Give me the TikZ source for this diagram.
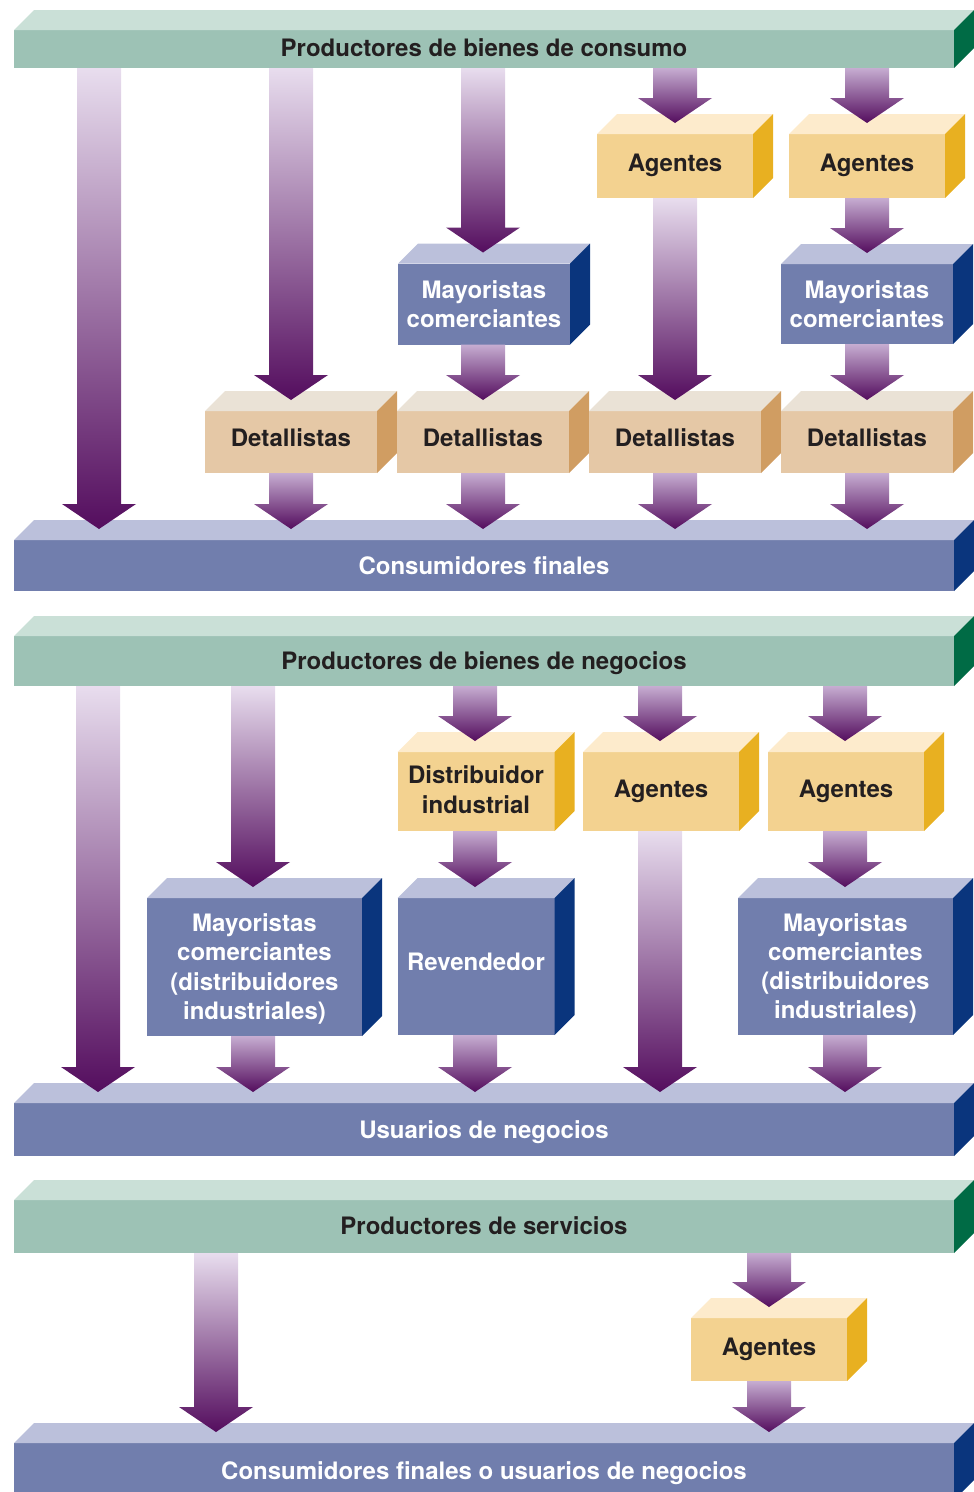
\documentclass[tikz,border=0pt]{standalone}
\usepackage{fontspec}
\setmainfont{TeX Gyre Heros}
\usetikzlibrary{calc}
\definecolor{grnF}{HTML}{9DC2B5}
\definecolor{grnT}{HTML}{CAE0D7}
\definecolor{grnS}{HTML}{006B45}
\definecolor{bluF}{HTML}{717EAD}
\definecolor{bluT}{HTML}{BBC0DB}
\definecolor{bluS}{HTML}{0A357D}
\definecolor{yelF}{HTML}{F3D290}
\definecolor{yelT}{HTML}{FDEBCC}
\definecolor{yelS}{HTML}{E8B021}
\definecolor{tanF}{HTML}{E5C8A6}
\definecolor{tanT}{HTML}{EAE2D6}
\definecolor{tanS}{HTML}{D09D62}
\definecolor{arrtop}{HTML}{E8DDEE}
\definecolor{arrmid}{HTML}{C6ADD1}
\definecolor{arrbot}{HTML}{540D5E}
\definecolor{txtdark}{HTML}{231F20}
\newcommand\cube[3]{%
  \fill[#2] (#1.north west) -- ++(20,-20) -- ($(#1.north east)+(20,-20)$) -- (#1.north east) -- cycle;
  \fill[#3] (#1.north east) -- ++(20,-20) -- ($(#1.south east)+(20,-20)$) -- (#1.south east) -- cycle;}
\newcommand\flow[3][arrtop]{%
  \shade[top color=#1, bottom color=arrbot]
   ($(#2)+(-22,0)$) -- ($(#2)+(22,0)$) -- ($(#3)+(22,-36)$) -- ($(#3)+(37,-36)$)
   -- ($(#3)+(0,-11)$) -- ($(#3)+(-37,-36)$) -- ($(#3)+(-22,-36)$) -- cycle;}
\newcommand\tx[2][0pt]{\raisebox{#1}[\height][\depth]{\begin{tabular}{@{}c@{}}#2\end{tabular}}}
\tikzset{
  face/.style={inner sep=0pt, outer sep=0pt,
    font=\bfseries\fontsize{24}{29.3}\selectfont},
  grnbar/.style={face, fill=grnF, text=txtdark, minimum width=940},
  blubar/.style={face, fill=bluF, text=white, minimum width=940},
  blubox/.style={face, fill=bluF, text=white},
  yelbox/.style={face, fill=yelF, text=txtdark},
  tanbox/.style={face, fill=tanF, text=txtdark, minimum width=172, minimum height=62},
}
\begin{document}
\begin{tikzpicture}[x=1pt,y=-1pt]
\useasboundingbox (0,0) rectangle (974,1492);
\clip (0,0) rectangle (974,1492);
% column coordinates
\coordinate (a1) at (99,0);  \coordinate (a2) at (291,0); \coordinate (a3) at (483,0);
\coordinate (a4) at (675,0); \coordinate (a5) at (867,0);
\coordinate (b1) at (98,0);  \coordinate (b2) at (253,0); \coordinate (b3) at (475,0);
\coordinate (b4) at (660,0); \coordinate (b5) at (845,0);
\coordinate (s1) at (216,0); \coordinate (s2) at (769,0);

% ---------- Section 1 ----------
\node[grnbar, minimum height=38] (P1) at (484,49) {\tx[-2pt]{Productores de bienes de consumo}};
\cube{P1}{grnT}{grnS}
\node[blubar, minimum height=51] (C1) at (484,565.5) {\tx[-3pt]{Consumidores finales}};
\cube{C1}{bluT}{bluS}
\node[tanbox] (D2) at (291,442) {\tx[1.4pt]{Detallistas}}; \cube{D2}{tanT}{tanS}
\node[tanbox] (D3) at (483,442) {\tx[1.4pt]{Detallistas}}; \cube{D3}{tanT}{tanS}
\node[tanbox] (D4) at (675,442) {\tx[1.4pt]{Detallistas}}; \cube{D4}{tanT}{tanS}
\node[tanbox] (D5) at (867,442) {\tx[1.4pt]{Detallistas}}; \cube{D5}{tanT}{tanS}
\node[blubox, minimum width=172, minimum height=81] (M3) at (484,304) {\tx[-3pt]{Mayoristas\\comerciantes}};
\cube{M3}{bluT}{bluS}
\node[blubox, minimum width=172, minimum height=80] (M5) at (867,304) {\tx[-3pt]{Mayoristas\\comerciantes}};
\cube{M5}{bluT}{bluS}
\node[yelbox, minimum width=156, minimum height=64] (A4) at (675,166) {\tx{Agentes}}; \cube{A4}{yelT}{yelS}
\node[yelbox, minimum width=156, minimum height=64] (A5) at (867,166) {\tx{Agentes}}; \cube{A5}{yelT}{yelS}

\flow{a1 |- P1.south}{a1 |- C1.north}
\flow{a2 |- P1.south}{a2 |- D2.north}
\flow[arrmid]{a2 |- D2.south}{a2 |- C1.north}
\flow{a3 |- P1.south}{a3 |- M3.north}
\flow[arrmid]{a3 |- M3.south}{a3 |- D3.north}
\flow[arrmid]{a3 |- D3.south}{a3 |- C1.north}
\flow[arrmid]{a4 |- P1.south}{a4 |- A4.north}
\flow{a4 |- A4.south}{a4 |- D4.north}
\flow[arrmid]{a4 |- D4.south}{a4 |- C1.north}
\flow[arrmid]{a5 |- P1.south}{a5 |- A5.north}
\flow[arrmid]{a5 |- A5.south}{a5 |- M5.north}
\flow[arrmid]{a5 |- M5.south}{a5 |- D5.north}
\flow[arrmid]{a5 |- D5.south}{a5 |- C1.north}

% ---------- Section 2 ----------
\node[grnbar, minimum height=50] (P2) at (484,661) {\tx[-3pt]{Productores de bienes de negocios}};
\cube{P2}{grnT}{grnS}
\node[blubar, minimum height=53] (U) at (484,1129.5) {\tx[-3pt]{Usuarios de negocios}};
\cube{U}{bluT}{bluS}
\node[blubox, minimum width=215, minimum height=138] (MB2) at (254.5,967)
  {\tx[-2.6pt]{Mayoristas\\comerciantes\\(distribuidores\\industriales)}};
\cube{MB2}{bluT}{bluS}
\node[yelbox, minimum width=157, minimum height=79] (DI3) at (476,791.5) {\tx[-1pt]{Distribuidor\\industrial}};
\cube{DI3}{yelT}{yelS}
\node[blubox, minimum width=157, minimum height=137] (R3) at (476,966.5) {\tx[1.5pt]{Revendedor}};
\cube{R3}{bluT}{bluS}
\node[yelbox, minimum width=156, minimum height=79] (AG4) at (661,791.5) {\tx{Agentes}};
\cube{AG4}{yelT}{yelS}
\node[yelbox, minimum width=156, minimum height=79] (AG5) at (846,791.5) {\tx{Agentes}};
\cube{AG5}{yelT}{yelS}
\node[blubox, minimum width=215, minimum height=137] (MB5) at (845.5,966.5)
  {\tx[-2.6pt]{Mayoristas\\comerciantes\\(distribuidores\\industriales)}};
\cube{MB5}{bluT}{bluS}

\flow{b1 |- P2.south}{b1 |- U.north}
\flow{b2 |- P2.south}{b2 |- MB2.north}
\flow[arrmid]{b2 |- MB2.south}{b2 |- U.north}
\flow[arrmid]{b3 |- P2.south}{b3 |- DI3.north}
\flow[arrmid]{b3 |- DI3.south}{b3 |- R3.north}
\flow[arrmid]{b3 |- R3.south}{b3 |- U.north}
\flow[arrmid]{b4 |- P2.south}{b4 |- AG4.north}
\flow{b4 |- AG4.south}{b4 |- U.north}
\flow[arrmid]{b5 |- P2.south}{b5 |- AG5.north}
\flow[arrmid]{b5 |- AG5.south}{b5 |- MB5.north}
\flow[arrmid]{b5 |- MB5.south}{b5 |- U.north}

% ---------- Section 3 ----------
\node[grnbar, minimum height=53] (PS) at (484,1226.5) {\tx[-2pt]{Productores de servicios}};
\cube{PS}{grnT}{grnS}
\node[blubar, minimum height=57] (CU) at (484,1471.5) {\tx[-2pt]{Consumidores finales o usuarios de negocios}};
\cube{CU}{bluT}{bluS}
\node[yelbox, minimum width=156, minimum height=63] (AS) at (769,1349.5) {\tx{Agentes}};
\cube{AS}{yelT}{yelS}

\flow{s1 |- PS.south}{s1 |- CU.north}
\flow[arrmid]{s2 |- PS.south}{s2 |- AS.north}
\flow[arrmid]{s2 |- AS.south}{s2 |- CU.north}
\end{tikzpicture}
\end{document}
